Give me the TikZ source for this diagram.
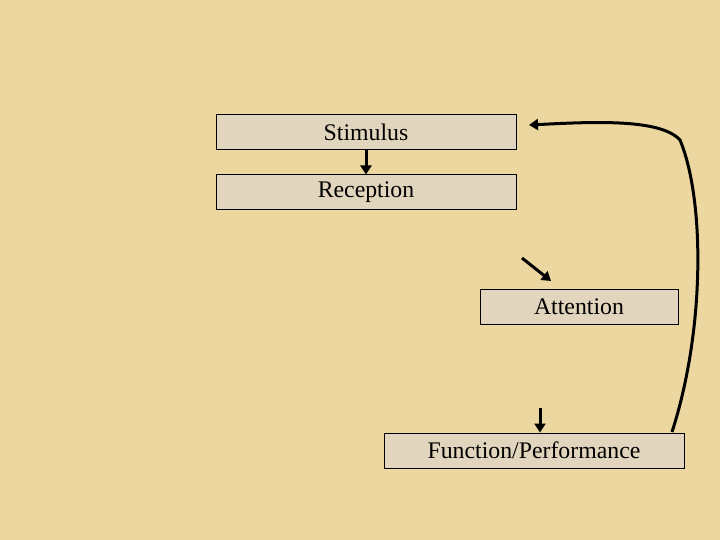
\documentclass[tikz,border=0pt]{standalone}
\usepackage{fontspec}
\setmainfont{Liberation Serif}
\usetikzlibrary{arrows.meta}
\definecolor{bg}{HTML}{EDD7A0}
\definecolor{boxfill}{HTML}{E2D5BD}
\begin{document}
\begin{tikzpicture}[x=1pt,y=-1pt,
  box/.style={draw=black,fill=boxfill,line width=1pt,inner sep=0pt,font=\fontsize{23.8}{26}\selectfont},
  arr/.style={line width=3pt,-{Triangle[length=9pt,width=11pt]}}]
\fill[bg] (0,0) rectangle (720,540);
\useasboundingbox (0,0) rectangle (720,540);
\node[box,minimum width=300pt,minimum height=35pt] (s) at (366,132.5) {Stimulus};
\node[box,minimum width=300pt,minimum height=35pt] (r) at (366,192.5) {Reception};
\node[box,minimum width=198pt,minimum height=35pt] (a) at (579,306.5) {Attention};
\node[box,minimum width=300pt,minimum height=35pt] (f) at (534,450.5) {Function/Performance};
\coordinate (a1) at (522,258);
\coordinate (a2) at (551,281);
\coordinate (f1) at (540,408);
\coordinate (c1) at (672,432);
\coordinate (c2) at (529,125);
\draw[arr] (s.south) -- (r.north);
\draw[arr] (a1) -- (a2);
\draw[arr] (f1) -- (f.north -| f1);
\draw[arr] (c1) .. controls (705,330) and (705,200) .. (680,140) .. controls (660,118) and (590,122) .. (c2);
\end{tikzpicture}
\end{document}
